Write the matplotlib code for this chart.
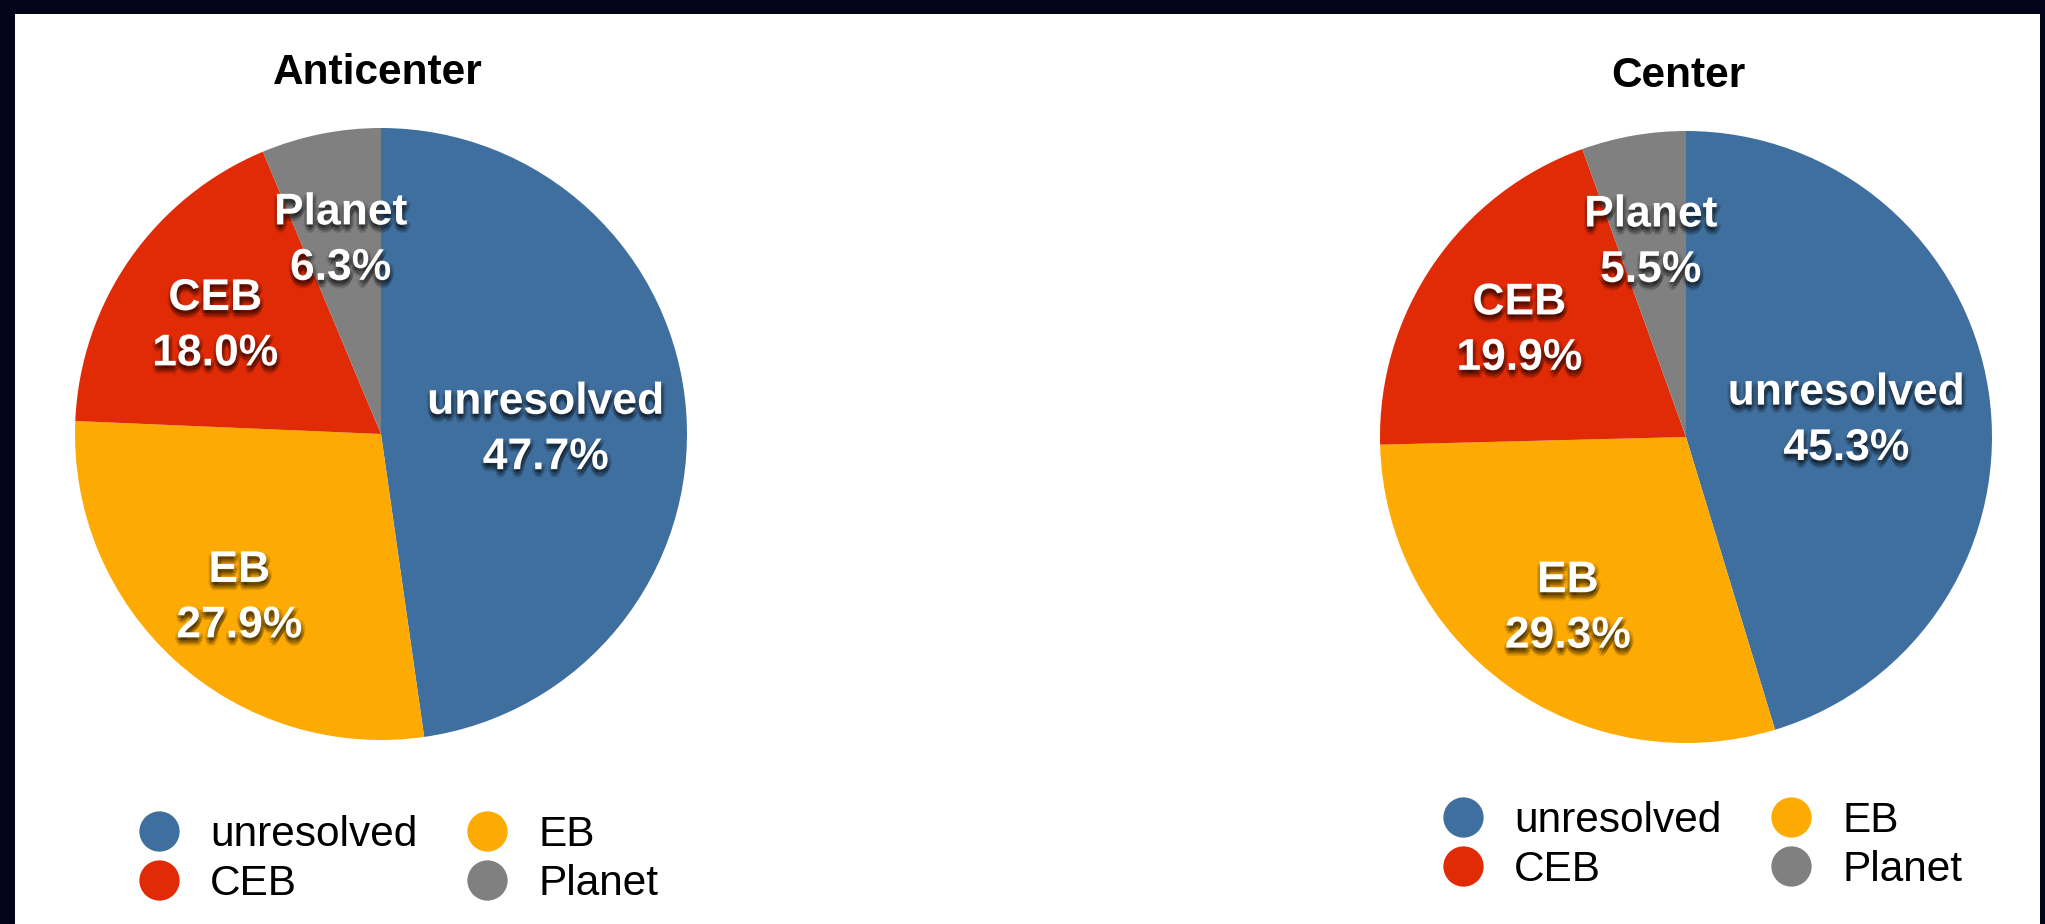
import matplotlib
matplotlib.use("Agg")
import matplotlib.pyplot as plt
import matplotlib.patheffects as pe
from matplotlib.patches import Rectangle
from matplotlib.lines import Line2D
import numpy as np

plt.rcParams['font.family'] = ['Liberation Sans', 'DejaVu Sans']

categories = ["unresolved", "EB", "CEB", "Planet"]
anticenter_values = [47.7, 27.9, 18.0, 6.3]
center_values = [45.3, 29.3, 19.9, 5.5]
titles = ["Anticenter", "Center"]
colors = ["#3f6f9e", "#fdaa02", "#e12a06", "#808080"]
legend_order = ["unresolved", "CEB", "EB", "Planet"]

W, H = 2045, 924
fig = plt.figure(figsize=(W / 100, H / 100), dpi=100)
fig.patch.set_facecolor("#03031a")
fig.patches.append(Rectangle((15 / W, 0), (2040 - 15) / W, (H - 14) / H,
                             transform=fig.transFigure, facecolor="white",
                             edgecolor="none", zorder=-10))

R = 306
pies = [
    dict(vals=anticenter_values, cx=381, cy=434, title=titles[0], tx=378, ty=73,
         rfrac=[0.54, 0.69, 0.66, 0.67], leg=(138, 815)),
    dict(vals=center_values, cx=1686, cy=437, title=titles[1], tx=1678, ty=76,
         rfrac=[0.53, 0.66, 0.66, 0.67], leg=(1442, 801)),
]

shadow = []
for dx, dy, a in [(0, -2, 0.22), (2, -3, 0.2), (-1, -4, 0.18), (1, -5, 0.15),
                  (3, -1, 0.12), (-2, -2, 0.12), (0, -6, 0.1)]:
    shadow.append(pe.SimplePatchShadow(offset=(dx, dy), shadow_rgbFace="black", alpha=a))
shadow.append(pe.Normal())

for p in pies:
    ax = fig.add_axes([(p["cx"] - R) / W, (H - p["cy"] - R) / H, 2 * R / W, 2 * R / H])
    ax.set_zorder(1)
    wedges, _ = ax.pie(p["vals"], colors=colors, startangle=90, counterclock=False,
                       radius=1.0, wedgeprops=dict(linewidth=0))
    ax.set_xlim(-1, 1)
    ax.set_ylim(-1, 1)
    ax.axis("off")
    for w, cat, v, rf in zip(wedges, categories, p["vals"], p["rfrac"]):
        mid = np.deg2rad((w.theta1 + w.theta2) / 2)
        ax.annotate(f"{cat}\n{v:.1f}%", xy=(rf * np.cos(mid), rf * np.sin(mid)),
                    xytext=(0, -5.5), textcoords="offset points",
                    ha="center", va="center", color="white", fontsize=32,
                    fontweight="bold", linespacing=1.45, path_effects=shadow)
    fig.text(p["tx"] / W, 1 - p["ty"] / H, p["title"], ha="center", va="center",
             fontsize=30.5, fontweight="bold", color="black")
    handles = [Line2D([], [], linestyle="none", marker="o", markersize=29,
                      markerfacecolor=colors[categories.index(c)],
                      markeredgewidth=0) for c in legend_order]
    lx, ly = p["leg"]
    fig.legend(handles, legend_order, loc="upper left",
               bbox_to_anchor=(lx / W, 1 - ly / H), ncol=2, frameon=False,
               fontsize=30.5, handlelength=1.0, handletextpad=0.7,
               columnspacing=1.15, labelspacing=0.22, borderpad=0,
               borderaxespad=0)

fig.savefig("out.png", dpi=100, facecolor=fig.get_facecolor())
